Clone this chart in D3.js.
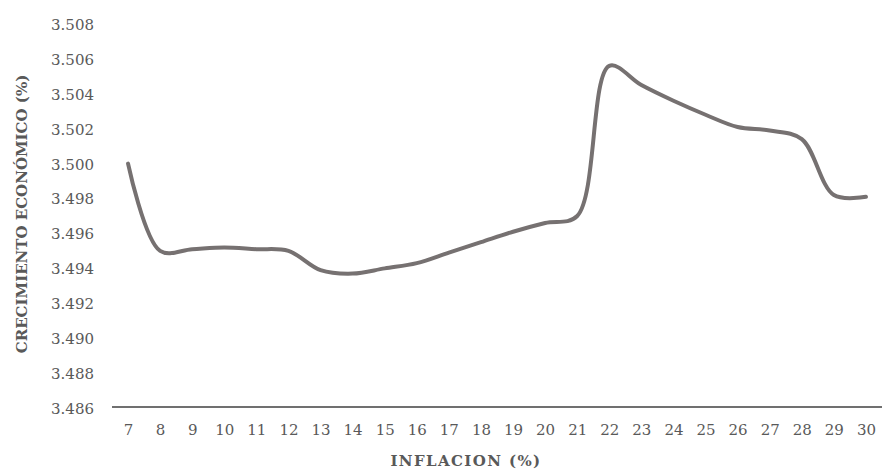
<!DOCTYPE html>
<html>
<head>
<meta charset="utf-8">
<script src="https://cdn.jsdelivr.net/npm/d3@7"></script>
<style>
  html, body { margin: 0; padding: 0; background: #fff; }
  svg { display: block; }
</style>
</head>
<body>
<svg id="chart" width="883" height="472"></svg>
<script>
// Inflation (%) categories on the x axis
const inflacion = [7, 8, 9, 10, 11, 12, 13, 14, 15, 16, 17, 18, 19, 20, 21, 22, 23, 24, 25, 26, 27, 28, 29, 30];
// Economic growth (%) for each inflation level
const crecimiento = [3.5000, 3.4950, 3.4951, 3.4952, 3.4951, 3.4950, 3.4939, 3.4937, 3.4940, 3.4943,
                     3.4949, 3.4955, 3.4961, 3.4966, 3.4970, 3.5056, 3.5045, 3.5036, 3.5028, 3.5021,
                     3.5019, 3.5014, 3.4982, 3.4981];
// Y axis ticks
const yTicks = [3.486, 3.488, 3.490, 3.492, 3.494, 3.496, 3.498, 3.500, 3.502, 3.504, 3.506, 3.508];

const svg = d3.select("#chart");
const fontFamily = "'DejaVu Serif', serif";

const x = d3.scalePoint()
  .domain(inflacion)
  .range([112, 882])
  .padding(0.5);

const y = d3.scaleLinear()
  .domain([3.486, 3.508])
  .range([408, 24]);

// Y tick labels (no axis line, no tick marks)
const yAxis = svg.append("g")
  .attr("transform", "translate(94,0)")
  .call(d3.axisLeft(y).tickValues(yTicks).tickFormat(d3.format(".3f")).tickSize(0).tickPadding(0));
yAxis.select(".domain").remove();
yAxis.selectAll("text")
  .attr("font-family", fontFamily)
  .attr("font-size", 15)
  .attr("fill", "#595959")
  .attr("dy", "0.36em");

// X axis line with category labels
const xAxis = svg.append("g")
  .attr("transform", "translate(0,407)")
  .call(d3.axisBottom(x).tickSize(0).tickPadding(17));
xAxis.select(".domain")
  .attr("stroke", "#404040")
  .attr("stroke-width", 1.6)
  .attr("d", "M112,0H882");
xAxis.selectAll("text")
  .attr("font-family", fontFamily)
  .attr("font-size", 15)
  .attr("fill", "#595959");

// Growth line
const line = d3.line()
  .x((d, i) => x(inflacion[i]))
  .y(d => y(d))
  .curve(d3.curveCatmullRom.alpha(0.5));

svg.append("path")
  .datum(crecimiento)
  .attr("fill", "none")
  .attr("stroke", "#767171")
  .attr("stroke-width", 4)
  .attr("stroke-linecap", "round")
  .attr("stroke-linejoin", "round")
  .attr("d", line);

// Axis titles
svg.append("text")
  .attr("x", 466)
  .attr("y", 466)
  .attr("text-anchor", "middle")
  .attr("font-family", fontFamily)
  .attr("font-weight", "bold")
  .attr("font-size", 15)
  .attr("letter-spacing", 1.4)
  .attr("fill", "#595959")
  .text("INFLACION (%)");

svg.append("text")
  .attr("transform", "translate(27,214) rotate(-90)")
  .attr("text-anchor", "middle")
  .attr("font-family", fontFamily)
  .attr("font-weight", "bold")
  .attr("font-size", 15)
  .attr("fill", "#595959")
  .text("CRECIMIENTO ECONÓMICO (%)");
</script>
</body>
</html>
